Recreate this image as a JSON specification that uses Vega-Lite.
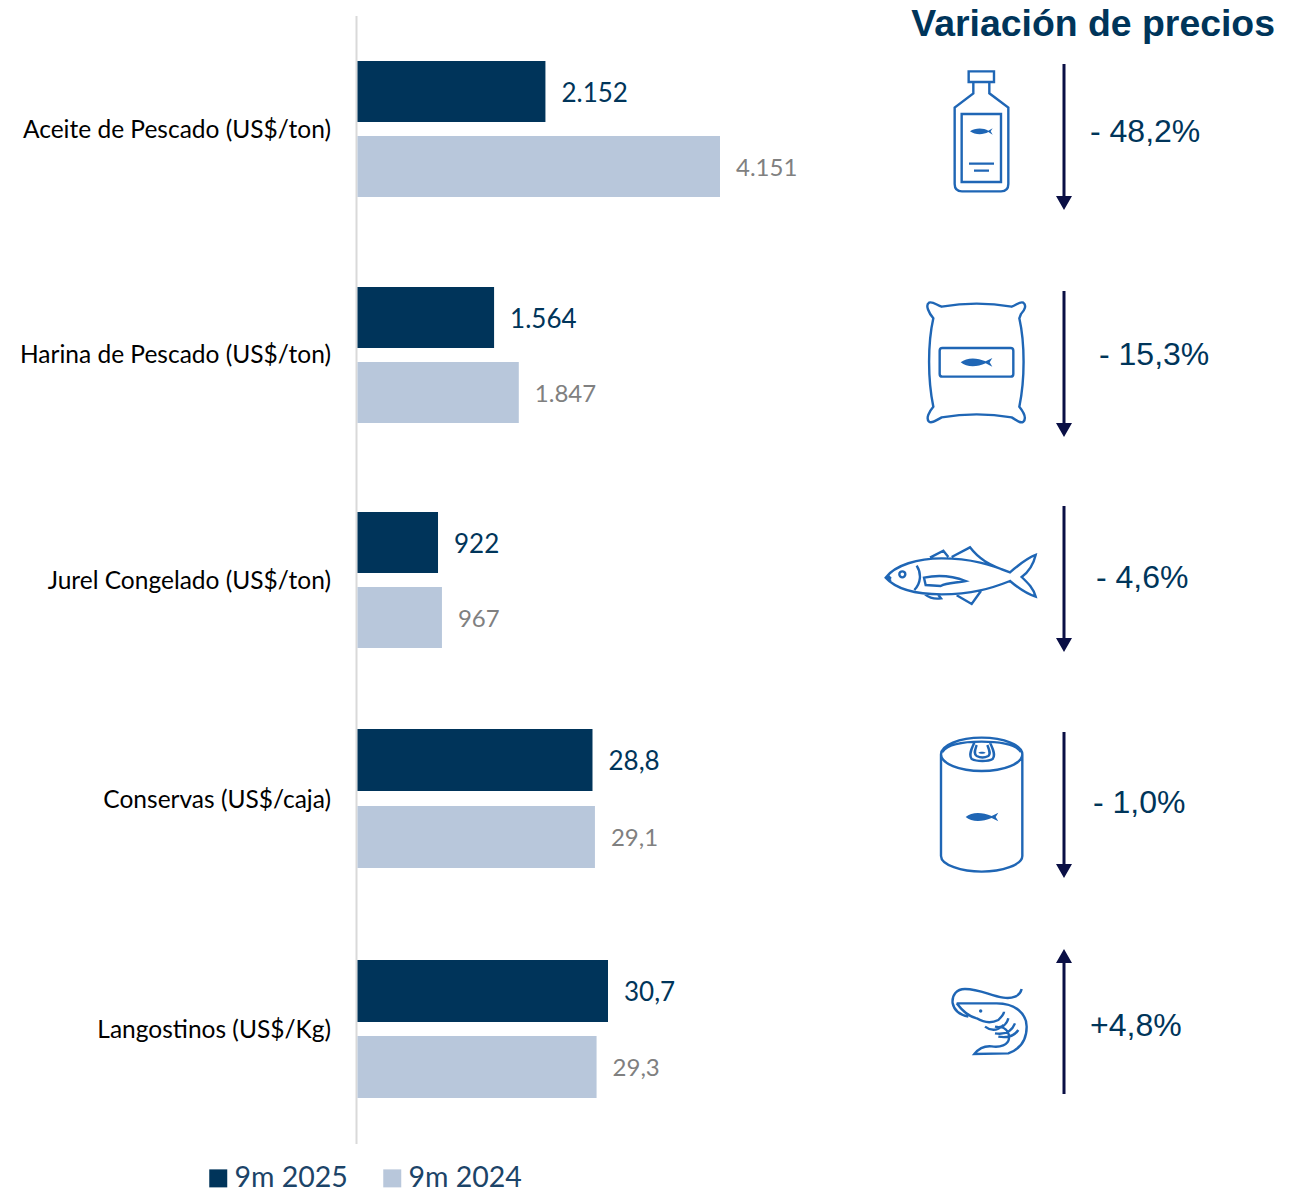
{
"$schema":"https://vega.github.io/schema/vega-lite/v6.json",
"width":1299,"height":1190,"padding":0,"autosize":{"type":"none"},"background":"#ffffff",
"title":{"text":"Variación de precios","font":"Liberation Sans","fontSize":37.4,"fontWeight":"bold","color":"#00355a","anchor":"end","frame":"group","offset":0,"dx":-24,"dy":73,"baseline":"alphabetic"},
"config":{"view":{"stroke":null}},
"datasets":{
"precios":[
{"fila":1,"categoria":"Aceite de Pescado","serie":"9m 2025","valor":2152,"etiqueta":"2.152","unidad":"ton"},
{"fila":2,"categoria":"Aceite de Pescado","serie":"9m 2024","valor":4151,"etiqueta":"4.151","unidad":"ton"},
{"fila":3,"categoria":"Harina de Pescado","serie":"9m 2025","valor":1564,"etiqueta":"1.564","unidad":"ton"},
{"fila":4,"categoria":"Harina de Pescado","serie":"9m 2024","valor":1847,"etiqueta":"1.847","unidad":"ton"},
{"fila":5,"categoria":"Jurel Congelado","serie":"9m 2025","valor":922,"etiqueta":"922","unidad":"ton"},
{"fila":6,"categoria":"Jurel Congelado","serie":"9m 2024","valor":967,"etiqueta":"967","unidad":"ton"},
{"fila":7,"categoria":"Conservas","serie":"9m 2025","valor":28.8,"etiqueta":"28,8","unidad":"otra"},
{"fila":8,"categoria":"Conservas","serie":"9m 2024","valor":29.1,"etiqueta":"29,1","unidad":"otra"},
{"fila":9,"categoria":"Langostinos","serie":"9m 2025","valor":30.7,"etiqueta":"30,7","unidad":"otra"},
{"fila":10,"categoria":"Langostinos","serie":"9m 2024","valor":29.3,"etiqueta":"29,3","unidad":"otra"}
],
"variacion":[
{"categoria":"Aceite de Pescado (US$/ton)","variacion":-48.2,"etiqueta":"- 48,2%","direccion":"baja"},
{"categoria":"Harina de Pescado (US$/ton)","variacion":-15.3,"etiqueta":"- 15,3%","direccion":"baja"},
{"categoria":"Jurel Congelado (US$/ton)","variacion":-4.6,"etiqueta":"- 4,6%","direccion":"baja"},
{"categoria":"Conservas (US$/caja)","variacion":-1.0,"etiqueta":"- 1,0%","direccion":"baja"},
{"categoria":"Langostinos (US$/Kg)","variacion":4.8,"etiqueta":"+4,8%","direccion":"sube"}
]},
"resolve":{"scale":{"x":"independent","y":"independent","shape":"independent"}},
"layer":[
{"data":{"values":[{"eje":"base"}]},"mark":{"type":"rule","stroke":"#d9d9d9","strokeWidth":2},
 "encoding":{"x":{"datum":0,"type":"quantitative","axis":null,"scale":{"domain":[0,1],"range":[356.5,357.5]}},
 "y":{"datum":0,"type":"quantitative","axis":null,"scale":{"domain":[0,1],"range":[16,1144]}},"y2":{"datum":1}}},
{"data":{"name":"precios"},"transform":[{"filter":"datum.unidad=='ton'"}],
 "encoding":{"y":{"field":"fila","type":"quantitative","axis":null,"scale":{"domain":[1,2,3,4,5,6,7,8,9,10],"range":[91.5,166.5,317.5,392.5,542.5,617.5,760,837,991,1067],"zero":false,"nice":false,"padding":0}},
 "x":{"field":"valor","type":"quantitative","axis":null,"stack":null,"scale":{"domain":[0,4151],"range":[357.5,720],"nice":false}}},
 "layer":[
 {"mark":{"type":"bar","orient":"horizontal","size":61},"encoding":{"color":{"field":"serie","type":"nominal","scale":{"domain":["9m 2025","9m 2024"],"range":["#00345a","#b8c7db"]},"legend":{"orient":"none","legendX":204,"legendY":1164,"direction":"horizontal","title":null,"symbolType":"square","symbolSize":324,"symbolStrokeWidth":0,"labelFontSize":28.5,"labelFont":"Lato","labelColor":"#1c4468","labelOffset":2,"columnPadding":30,"symbolOffset":0}}}},
 {"mark":{"type":"text","align":"left","baseline":"middle","dx":16,"dy":2,"font":"Lato"},"encoding":{"text":{"field":"etiqueta"},
  "size":{"condition":{"test":"datum.serie=='9m 2025'","value":26},"value":24},
  "color":{"condition":{"test":"datum.serie=='9m 2025'","value":"#00355a"},"value":"#808080"}}}
 ]},
{"data":{"name":"precios"},"transform":[{"filter":"datum.unidad=='otra'"}],
 "encoding":{"y":{"field":"fila","type":"quantitative","axis":null,"scale":{"domain":[1,2,3,4,5,6,7,8,9,10],"range":[91.5,166.5,317.5,392.5,542.5,617.5,760,837,991,1067],"zero":false,"nice":false,"padding":0}},
 "x":{"field":"valor","type":"quantitative","axis":null,"stack":null,"scale":{"domain":[0,30.7],"range":[357.5,608],"nice":false}}},
 "layer":[
 {"mark":{"type":"bar","orient":"horizontal","size":62},"encoding":{"color":{"field":"serie","type":"nominal"}}},
 {"mark":{"type":"text","align":"left","baseline":"middle","dx":16,"dy":2,"font":"Lato"},"encoding":{"text":{"field":"etiqueta"},
  "size":{"condition":{"test":"datum.serie=='9m 2025'","value":26},"value":24},
  "color":{"condition":{"test":"datum.serie=='9m 2025'","value":"#00355a"},"value":"#808080"}}}
 ]},
{"data":{"name":"variacion"},"mark":{"type":"text","align":"right","baseline":"middle","font":"Lato","fontSize":24.5,"color":"#000000"},
 "encoding":{"text":{"field":"categoria"},
 "x":{"field":"variacion","type":"quantitative","axis":null,"scale":{"domain":[-48.2,-15.3,-4.6,-1.0,4.8],"range":[331,331,331,331,331],"zero":false,"nice":false}},
 "y":{"field":"variacion","type":"quantitative","axis":null,"scale":{"domain":[-48.2,-15.3,-4.6,-1.0,4.8],"range":[131,356,582,801,1031],"zero":false,"nice":false}}}},
{"data":{"name":"variacion"},"mark":{"type":"text","align":"left","baseline":"middle","font":"Liberation Sans","fontSize":32,"color":"#00355a"},
 "encoding":{"text":{"field":"etiqueta"},
 "x":{"field":"variacion","type":"quantitative","axis":null,"scale":{"domain":[-48.2,-15.3,-4.6,-1.0,4.8],"range":[1090,1099,1096,1093,1090],"zero":false,"nice":false}},
 "y":{"field":"variacion","type":"quantitative","axis":null,"scale":{"domain":[-48.2,-15.3,-4.6,-1.0,4.8],"range":[132,355,578,803,1026],"zero":false,"nice":false}}}},
{"data":{"name":"variacion"},"mark":{"type":"point","filled":true,"fill":"#0a0f45","stroke":null,"size":0.4444,"opacity":1},
 "encoding":{
 "x":{"field":"variacion","type":"quantitative","axis":null,"scale":{"domain":[-48.2,-15.3,-4.6,-1.0,4.8],"range":[1064,1064,1064,1064,1064],"zero":false,"nice":false}},
 "y":{"field":"variacion","type":"quantitative","axis":null,"scale":{"domain":[-48.2,-15.3,-4.6,-1.0,4.8],"range":[64,291,506,732,949],"zero":false,"nice":false}},
 "shape":{"field":"direccion","type":"nominal","legend":null,"scale":{"domain":["baja","sube"],"range":["M-4.5,0 L4.5,0 L4.5,396 L24,396 L0,438 L-24,396 L-4.5,396Z","M0,0 L24,42 L4.5,42 L4.5,435 L-4.5,435 L-4.5,42 L-24,42Z"]}}}},
{"data":{"name":"variacion"},"mark":{"type":"point","filled":false,"fill":"transparent","stroke":"#1f66b5","strokeWidth":2.4,"size":0.4444,"opacity":1},
 "encoding":{
 "x":{"field":"variacion","type":"quantitative","axis":null,"scale":{"domain":[-48.2,-15.3,-4.6,-1.0,4.8],"range":[920,915,875,925,940],"zero":false,"nice":false}},
 "y":{"field":"variacion","type":"quantitative","axis":null,"scale":{"domain":[-48.2,-15.3,-4.6,-1.0,4.8],"range":[60,290,535,730,975],"zero":false,"nice":false}},
 "shape":{"field":"categoria","type":"nominal","legend":null,"scale":{"domain":["Aceite de Pescado (US$/ton)","Harina de Pescado (US$/ton)","Jurel Congelado (US$/ton)","Conservas (US$/caja)","Langostinos (US$/Kg)"],"range":[
 "M146,34 H222 V66 H146Z M160,66 V100 L104,143 V372 C104,388 114,394 126,394 H243 C255,394 265,388 265,372 V143 L208,100 V66 M125,162 H243 V366 H125Z M147,311 H222 M162,332 H207",
 "M80,50 C150,38 220,38 290,50 C305,45 315,33 325,38 C335,45 330,60 318,72 L313,85 C330,160 330,270 313,350 C325,365 335,385 325,395 C315,402 305,390 290,382 C220,370 150,370 80,382 C65,390 50,402 42,395 C32,385 42,365 55,350 C38,270 38,160 55,85 C42,70 30,45 42,38 C52,33 65,45 80,50Z M82,174 H287 Q295,174 295,182 V252 Q295,260 287,260 H82 Q74,260 74,252 V182 Q74,174 82,174Z",
 "M32,128 C60,90 130,70 200,70 C290,70 350,90 405,112 C425,95 455,70 482,60 C475,90 462,110 440,126 C460,145 475,160 482,185 C450,175 425,155 405,138 C350,160 290,178 200,178 C130,178 65,165 32,128Z M165,68 L205,47 L220,66 M230,66 L285,37 C310,70 340,90 405,112 M150,178 C165,190 180,193 198,190 L190,180 M245,181 L290,207 L320,165 M147,128 C185,120 230,122 272,138 C245,144 215,142 197,153 L152,150Z M125,92 C140,115 138,145 118,165 M73,118 A9,9 0 1,1 91,118 A9,9 0 1,1 73,118Z M32,128 L48,138",
 "M48,73 A122,50 0 1,1 292,73 A122,50 0 1,1 48,73Z M52,66 C70,40 130,35 170,35 C210,35 270,40 288,66 M48,73 V378 C48,405 110,425 170,425 C230,425 292,405 292,378 V73 M148,38 C140,55 130,75 140,87 C155,95 190,95 203,87 C213,75 203,55 195,38 M155,45 C150,60 145,72 155,78 C165,83 180,83 190,78 C198,72 193,60 187,45",
 "M245,42 C240,65 215,72 190,68 C150,62 120,42 75,42 C50,42 35,60 38,85 C42,105 60,120 85,125 M50,85 H170 C225,85 260,115 260,155 C260,195 240,222 205,235 L103,237 C115,222 135,212 155,214 C180,218 205,210 207,190 C208,175 200,160 180,155 M50,85 C65,105 85,125 110,130 C135,145 155,145 175,135 C185,125 192,115 192,110 M135,155 C155,170 175,165 190,150 M205,130 C200,150 185,160 165,155 M225,145 C215,170 195,180 165,175 M235,165 C225,180 205,190 175,185"
 ]}}}},
{"data":{"name":"variacion"},"mark":{"type":"point","filled":true,"fill":"#1f66b5","stroke":null,"size":0.4444,"opacity":1},
 "encoding":{
 "x":{"field":"variacion","type":"quantitative","axis":null,"scale":{"domain":[-48.2,-15.3,-4.6,-1.0,4.8],"range":[920,915,875,925,940],"zero":false,"nice":false}},
 "y":{"field":"variacion","type":"quantitative","axis":null,"scale":{"domain":[-48.2,-15.3,-4.6,-1.0,4.8],"range":[60,290,535,730,975],"zero":false,"nice":false}},
 "shape":{"field":"categoria","type":"nominal","legend":null,"scale":{"domain":["Aceite de Pescado (US$/ton)","Harina de Pescado (US$/ton)","Jurel Congelado (US$/ton)","Conservas (US$/caja)","Langostinos (US$/Kg)"],"range":[
 "M150,214 C165,203 190,203 205,212 L218,205 L212,214 L218,224 L205,216 C190,225 165,225 150,214Z",
 "M137,217 C155,202 185,202 212,214 L232,204 L224,217 L232,230 L212,220 C185,232 155,232 137,217Z",
 "M32,128 L40,118 L50,128 L44,138Z",
 "M122,261 C140,246 170,246 200,258 L220,248 L212,261 L220,274 L200,264 C170,276 140,276 122,261Z M160,68 C165,64 177,64 182,68 C177,72 165,72 160,68Z",
 "M117,108 A5,5 0 1,1 127,108 A5,5 0 1,1 117,108Z"
 ]}}}}
]
}
